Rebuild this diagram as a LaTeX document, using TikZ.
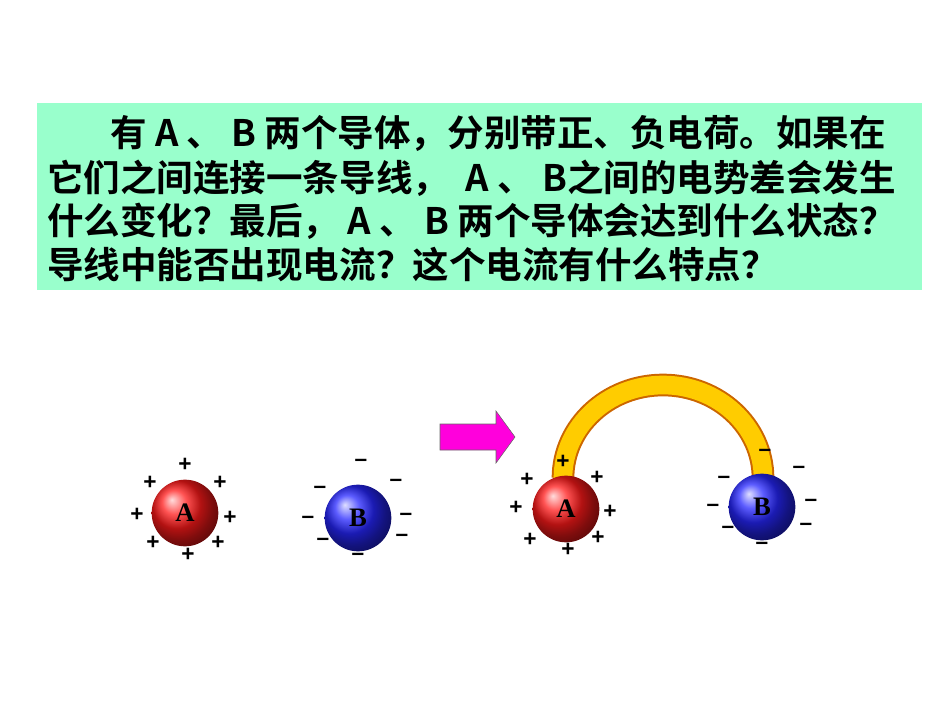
\documentclass[tikz,border=0pt]{standalone}
\usepackage{fontspec}
\newfontfamily\cjk{Noto Sans CJK SC Bold}
\newfontfamily\serf{Liberation Serif}
\newfontfamily\sns{Liberation Sans}
\begin{document}
\begin{tikzpicture}[x=0.75pt,y=-0.75pt,
  txt/.style={anchor=west,font=\cjk\fontsize{27.4}{28}\selectfont,inner sep=0},
  ballA/.style={circle,minimum size=50pt,ball color=red!90!white,font=\serf\bfseries\fontsize{20}{20}\selectfont,inner sep=0},
  ballB/.style={circle,minimum size=50pt,ball color=blue!85!white,font=\serf\bfseries\fontsize{20}{20}\selectfont,inner sep=0},
  sg/.style={font=\sns\bfseries\fontsize{17}{17}\selectfont,inner sep=0}]
\useasboundingbox (0,0) rectangle (950,713);
\fill[fill={rgb,255:red,153;green,255;blue,204}] (37,103) rectangle (922,290);
\node[txt] (l1) at (110,133) {有 A 、 B 两个导体，分别带正、负电荷。如果在};
\node[txt] (l2) at (47,178) {它们之间连接一条导线，\ \ A 、 B之间的电势差会发生};
\node[txt] (l3) at (47,221) {什么变化？最后， A 、 B 两个导体会达到什么状态？};
\node[txt] (l4) at (47,265) {导线中能否出现电流？这个电流有什么特点？};
% arrow
\filldraw[fill={rgb,255:red,255;green,0;blue,220},draw=black!60] (440,424) -- (496,424) -- (496,411) -- (515,437) -- (496,463) -- (496,450) -- (440,450) -- cycle;
% arch
\draw[line width=17pt,color=orange!80!black] (563,478) arc[start angle=180,end angle=360,x radius=100,y radius=93];
\draw[line width=14pt,color={rgb,255:red,255;green,204;blue,0}] (563,478) arc[start angle=180,end angle=360,x radius=100,y radius=93];
% balls
\node[ballA] (A1) at (185,513) {A};
\node[ballB] (B1) at (358,518) {B};
\node[ballA] (A2) at (566,509) {A};
\node[ballB] (B2) at (762,507) {B};
\foreach \p in {(185,465),(150,483),(220,483),(137,515),(230,518),(153,543),(218,543),(188,555),
  (563,462),(527,480),(597,478),(516,508),(610,512),(530,540),(598,538),(568,550)}
  \node[sg] at \p {+};
\foreach \p in {(361,463),(320,490),(396,483),(308,520),(406,517),(323,542),(402,538),(358,557),
  (765,453),(799,470),(724,480),(713,508),(811,503),(728,530),(806,527),(762,546)}
  \node[sg] at \p {–};
\end{tikzpicture}
\end{document}
